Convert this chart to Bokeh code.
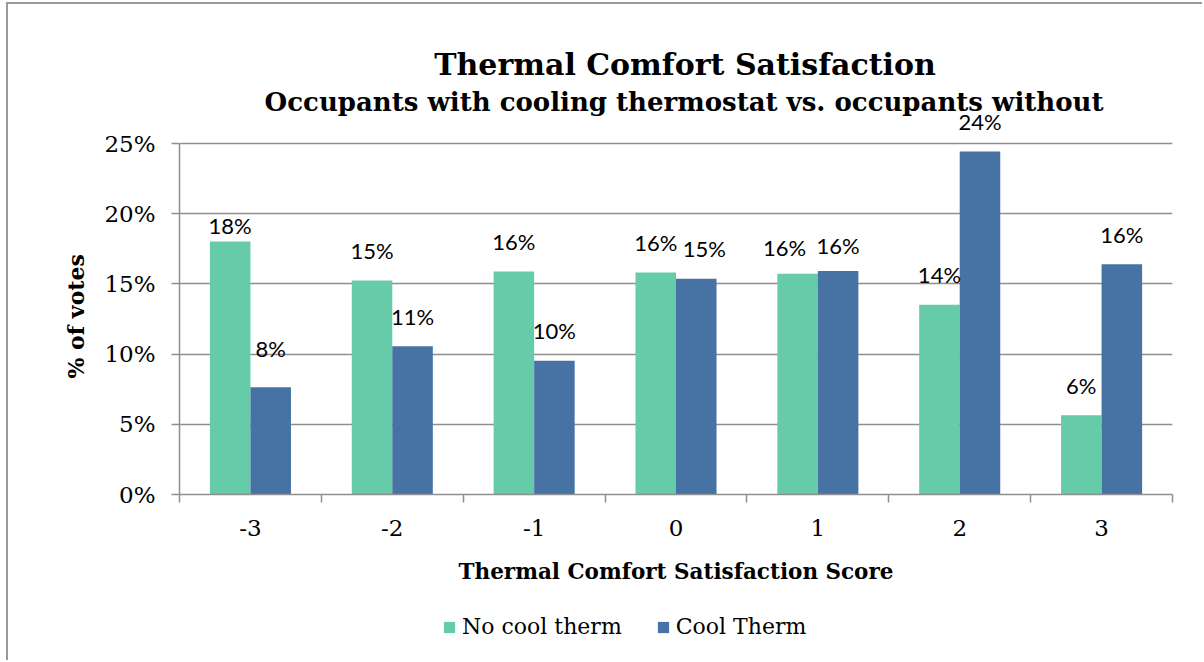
from bokeh.plotting import figure
from bokeh.layouts import column
from bokeh.models import (ColumnDataSource, Range1d, FixedTicker, PrintfTickFormatter,
                          Legend, LegendItem, Label, Title)
from bokeh.transform import dodge
from bokeh.embed import file_html
from bokeh.resources import INLINE

# ---- data ----
categories = ["-3", "-2", "-1", "0", "1", "2", "3"]
no_cool_therm = [18.02, 15.24, 15.88, 15.81, 15.72, 13.52, 5.65]   # % of votes
cool_therm = [7.64, 10.56, 9.52, 15.36, 15.91, 24.43, 16.40]       # % of votes
y_ticks = [0, 5, 10, 15, 20, 25]
series_names = ["No cool therm", "Cool Therm"]
title_text = "Thermal Comfort Satisfaction"
subtitle_text = "Occupants with cooling thermostat vs. occupants without"
x_title = "Thermal Comfort Satisfaction Score"
y_title = "% of votes"

# ---- layout / styling ----
W = 1196
H_MAIN, H_LEG = 600, 58
BORDER_L, BORDER_R, BORDER_B = 171, 32, 110
FRAME_H = H_MAIN - BORDER_B          # frame runs to the top of the canvas
AXIS_H = 351                         # pixel height of the 0..25% axis
GREEN = "#66CBA8"
BLUE = "#4673A4"
GRID = "#8f8f8f"
SERIF = "DejaVu Serif"
BAR_W = 0.2857
LABEL_GAP = 30
# manual nudges of a few data labels (dx, dy in px), as in the original
nudge_no = [(0, 14), (0, 0), (0, 0), (0, 0), (-13, 4), (0, 0), (0, 0)]
nudge_cool = [(0, -9), (0, 0), (0, 0), (8, 0), (0, 4), (0, 0), (0, 0)]

idx = list(range(len(categories)))
src = ColumnDataSource(dict(
    idx=idx,
    no=no_cool_therm,
    cool=cool_therm,
    no_lbl=[f"{round(v)}%" for v in no_cool_therm],
    cool_lbl=[f"{round(v)}%" for v in cool_therm],
    no_dx=[d[0] for d in nudge_no],
    no_dy=[-LABEL_GAP + d[1] for d in nudge_no],
    cool_dx=[d[0] for d in nudge_cool],
    cool_dy=[-LABEL_GAP + d[1] for d in nudge_cool],
))

y_top = y_ticks[-1] * FRAME_H / AXIS_H

p = figure(width=W, height=H_MAIN,
           x_range=Range1d(-0.5, len(categories) - 0.5),
           y_range=Range1d(y_ticks[0], y_top),
           output_backend="svg", toolbar_location=None, title=None,
           min_border_left=BORDER_L, min_border_right=BORDER_R,
           min_border_top=0, min_border_bottom=BORDER_B)
p.outline_line_color = None
p.background_fill_color = "white"
p.border_fill_color = "white"

p.vbar(x=dodge("idx", -BAR_W / 2, range=p.x_range), top="no", width=BAR_W,
       source=src, fill_color=GREEN, line_color=None)
p.vbar(x=dodge("idx", BAR_W / 2, range=p.x_range), top="cool", width=BAR_W,
       source=src, fill_color=BLUE, line_color=None)

for xoff, ycol, col, dx, dy in [(-BAR_W / 2, "no", "no_lbl", "no_dx", "no_dy"),
                                (BAR_W / 2, "cool", "cool_lbl", "cool_dx", "cool_dy")]:
    p.text(x=dodge("idx", xoff, range=p.x_range), y=ycol,
           text=col, x_offset=dx, y_offset=dy, source=src,
           text_align="center", text_baseline="alphabetic",
           text_font={"value": "Lato"}, text_font_size="22px", text_color="black")

# grid
p.xgrid.visible = False
p.ygrid.ticker = FixedTicker(ticks=y_ticks)
p.ygrid.grid_line_color = GRID
p.ygrid.grid_line_width = 1.5

# y axis
ya = p.yaxis[0]
ya.ticker = FixedTicker(ticks=y_ticks)
ya.bounds = (y_ticks[0], y_ticks[-1])
ya.formatter = PrintfTickFormatter(format="%d%%")
ya.axis_line_color = GRID
ya.axis_line_width = 1.5
ya.major_tick_line_color = GRID
ya.major_tick_line_width = 1.5
ya.major_tick_out = 8
ya.major_tick_in = 0
ya.minor_tick_line_color = None
ya.major_label_standoff = 16
ya.major_label_text_font = SERIF
ya.major_label_text_font_size = "23px"
ya.major_label_text_color = "black"

# y-axis title, placed along the 0..25% part of the axis
p.add_layout(Title(text=y_title, align="left", offset=116, standoff=26,
                   text_font=SERIF, text_font_style="bold", text_font_size="22px",
                   text_color="black"), "left")

# x axis
xa = p.xaxis[0]
xa.ticker = FixedTicker(ticks=idx, minor_ticks=[i - 0.5 for i in range(len(categories) + 1)])
xa.major_label_overrides = {i: c for i, c in zip(idx, categories)}
xa.axis_line_color = GRID
xa.axis_line_width = 1.5
xa.major_tick_out = 0
xa.major_tick_in = 0
xa.major_tick_line_color = None
xa.minor_tick_line_color = GRID
xa.minor_tick_line_width = 1.5
xa.minor_tick_out = 8
xa.minor_tick_in = 0
xa.major_label_standoff = 17
xa.major_label_text_font = SERIF
xa.major_label_text_font_size = "23px"
xa.major_label_text_color = "black"
xa.axis_label = x_title
xa.axis_label_text_font = SERIF
xa.axis_label_text_font_style = "bold"
xa.axis_label_text_font_size = "21.5px"
xa.axis_label_text_color = "black"
xa.axis_label_standoff = 20

# titles (inside the frame, which extends up to the top of the canvas)
center_x = (len(categories) - 1) / 2
p.add_layout(Label(x=center_x, y=y_ticks[-1], x_offset=9, y_offset=79, text=title_text,
                   text_align="center", text_baseline="alphabetic", text_font=SERIF,
                   text_font_style="bold", text_font_size="30px", text_color="black"))
p.add_layout(Label(x=center_x, y=y_ticks[-1], x_offset=8, y_offset=42, text=subtitle_text,
                   text_align="center", text_baseline="alphabetic", text_font=SERIF,
                   text_font_style="bold", text_font_size="26px", text_color="black"))

# ---- legend strip (separate figure under the chart) ----
q = figure(width=W, height=H_LEG, x_range=Range1d(100, 101), y_range=Range1d(100, 101),
           x_axis_type=None, y_axis_type=None, output_backend="svg",
           toolbar_location=None, title=None, min_border=0)
q.outline_line_color = None
q.grid.visible = False
# legend swatches take their style from renderers whose bars lie outside this strip's view
l_no = q.vbar(x="idx", top="no", width=BAR_W, source=src, fill_color=GREEN, line_color=None)
l_cool = q.vbar(x="idx", top="cool", width=BAR_W, source=src, fill_color=BLUE, line_color=None)
legend = Legend(items=[LegendItem(label=series_names[0], renderers=[l_no]),
                       LegendItem(label=series_names[1], renderers=[l_cool])],
                orientation="horizontal", location=(263, 23),
                glyph_width=14, glyph_height=14, label_standoff=6, spacing=34,
                padding=0, margin=0, border_line_color=None, background_fill_alpha=0,
                label_text_font=SERIF, label_text_font_size="22px", label_text_color="black")
q.add_layout(legend, "center")

layout = column(p, q, spacing=0,
                styles={"margin-left": "8px", "margin-top": "4px",
                        "box-shadow": "-2px -2px 0 0 #9a9a9a"})

open("out.html", "w").write(file_html(layout, INLINE))
